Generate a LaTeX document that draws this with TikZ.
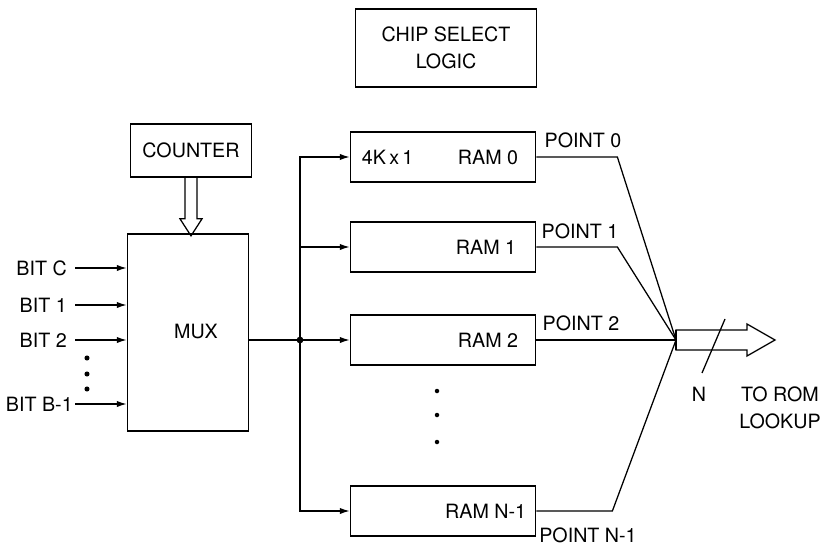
\documentclass[tikz,border=0pt]{standalone}
\usepackage{fontspec}
\setmainfont{TeX Gyre Heros}
\usetikzlibrary{arrows.meta}
\begin{document}
\begin{tikzpicture}[
x=0.025cm, y=-0.025cm,
font=\fontsize{14}{19}\selectfont,
blk/.style={draw, line width=1.2pt, inner sep=0pt},
ram/.style={blk, minimum width=4.625cm, minimum height=1.25cm},
wire/.style={line width=0.9pt},
arr/.style={wire, -{Latex[length=7pt,width=4.5pt]}},
lbl/.style={inner sep=0pt}
]
\useasboundingbox (0,0) rectangle (821,551);

%---------------- Blocks ----------------
\node[blk, minimum width=4.525cm, minimum height=1.95cm, align=center] (chip) at (446,48) {CHIP SELECT\\LOGIC};
\node[blk, minimum width=3.025cm, minimum height=1.325cm] (counter) at (191,150.5) {COUNTER};
\node[blk, minimum width=3.025cm, minimum height=4.925cm] (mux) at (188,332.5) {};
\node[lbl] (muxlbl) at (196,331) {MUX};

\node[ram] (ram0) at (443,157) {};
\node[ram] (ram1) at (443,247) {};
\node[ram] (ram2) at (443,340) {};
\node[ram] (ramn) at (443,511) {};
\node[lbl, anchor=west] (kx) at ([xshift=0.3cm]ram0.west) {4K\,x\,1};
\foreach \r/\t/\s in {ram0/RAM 0/0.45, ram1/RAM 1/0.5, ram2/RAM 2/0.45, ramn/RAM N-1/0.25}
  \node[lbl, anchor=east] (\r lbl) at ([xshift=-\s cm]\r.east) {\t};

%---------------- Inputs ----------------
\foreach \n/\t/\y/\g in {0/BIT C/268/8, 1/BIT 1/305/8, 2/BIT 2/340/8, b/BIT B-1/404/2} {
  \coordinate (in\n) at (75,\y);
  \node[lbl, anchor=east] (bit\n) at ([xshift=-\g*0.025cm]in\n) {\t};
  \draw[arr] (in\n) -- (mux.west |- in\n);
}
\foreach \y in {358,374,389}
  \fill (87,\y) circle (1.8pt);

% counter into mux
\draw[wire] (counter.south) ++(-6,0) -- ++(0,41) -- ++(-5,0) -- ++(11,17) -- ++(11,-17) -- ++(-5,0) -- ++(0,-41);

%---------------- Bus ----------------
\coordinate (jn) at (300,340);
\draw[wire] (mux.east |- jn) -- (jn);
\fill (jn) circle (2.4pt);
\foreach \r in {ram0,ram1,ram2,ramn}
  \draw[arr] (jn) |- (\r.west);
\foreach \y in {391,415,442}
  \fill (437,\y) circle (1.6pt);

%---------------- Outputs ----------------
\coordinate (hub) at (676,340);
\draw[wire] (ram0.east) -- ++(81,0) -- (hub);
\draw[wire] (ram1.east) -- ++(81,0) -- (hub);
\draw[wire] (ram2.east) -- (hub);
\draw[wire] (ramn.east) -- ++(76,0) -- (hub);

\node[lbl] (p0) at (583,140) {POINT 0};
\node[lbl] (p1) at (580,231) {POINT 1};
\node[lbl] (p2) at (581,323) {POINT 2};
\node[lbl] (pn) at (588,535) {POINT N-1};

\draw[wire] (hub) ++(0,-10) -- ++(71,0) -- ++(0,-6) -- ++(28,16) -- ++(-28,16) -- ++(0,-6) -- ++(-71,0) -- cycle;
\draw[line width=2pt] (hub) ++(0,-10) -- ++(0,20);
\draw[wire] (hub) ++(49,-21) -- ++(-23,54);

\node[lbl] (nlbl) at (699,394) {N};
\node[lbl, align=center] (rom) at (780,408) {TO ROM\\LOOKUP};

\end{tikzpicture}
\end{document}
